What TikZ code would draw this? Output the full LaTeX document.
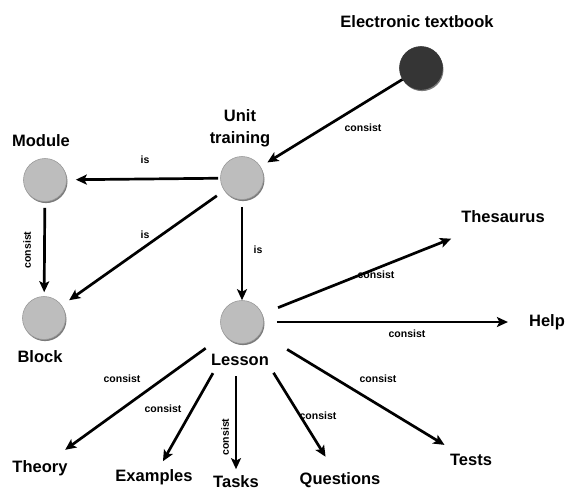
\documentclass[tikz,border=0pt]{standalone}
\usepackage{fontspec}
\setmainfont{Liberation Sans}
\usetikzlibrary{arrows.meta,shadows}
\definecolor{circfill}{HTML}{BDBDBD}
\definecolor{circrim}{HTML}{9A9A9A}
\definecolor{darkfill}{HTML}{353535}
\begin{document}
\begin{tikzpicture}[x=1pt,y=-1pt,
  circ/.style={circle, minimum size=43pt, inner sep=0pt, fill=circfill, draw=circrim, line width=0.6pt,
    drop shadow={shadow xshift=1pt, shadow yshift=-1.6pt, fill=gray!85!black, opacity=0.9}},
  lab/.style={font=\fontsize{16.5}{20}\selectfont\bfseries, inner sep=1pt, text height=11.8pt, text depth=3.5pt},
  elab/.style={font=\fontsize{10.5}{12}\selectfont\bfseries, inner sep=0pt},
  arr/.style={line width=2.7pt, -{Stealth[length=11pt,width=10pt,inset=2.5pt]}}]
\useasboundingbox (0,0) rectangle (569,491);
% circles
\node[circ] (unit) at (242,178) {};
\node[circ] (module) at (45,180) {};
\node[circ] (block) at (44,318) {};
\node[circ] (lesson) at (242,322) {};
\node[circ, fill=darkfill, draw=darkfill] (etb) at (421,68) {};
% labels
\node[lab] (etbL) at (417,23) {Electronic textbook};
\node[font=\fontsize{16.5}{22}\selectfont\bfseries, align=center, inner sep=1pt] (unitL) at (240,128) {Unit\\training};
\node[lab] (moduleL) at (41,142) {Module};
\node[lab] (blockL) at (40,358) {Block};
\node[lab] (lessonL) at (240,361) {Lesson};
\node[lab] (thes) at (503,218) {Thesaurus};
\node[lab] (help) at (547,322) {Help};
\node[lab] (theory) at (40,468) {Theory};
\node[lab] (examples) at (154,477) {Examples};
\node[lab] (tasks) at (236,483) {Tasks};
\node[lab] (questions) at (340,480) {Questions};
\node[lab] (tests) at (471,461) {Tests};
% connectors
\draw[arr, shorten >=8pt] (etb) -- (unit);
\draw[arr, shorten <=2pt, shorten >=9pt] (unit) -- (module);
\draw[arr, shorten <=9pt, shorten >=9pt] (unit) -- (block);
\draw[arr, line width=2pt, shorten <=7pt] (unit) -- (lesson);
\draw[arr, shorten <=6pt, shorten >=4pt] (module) -- (block);
\draw[arr, shorten <=17pt, shorten >=32pt] (lesson) -- (thes);
\draw[arr, shorten <=13pt, shorten >=20pt] (lesson) -- (help);
\draw[arr, shorten <=23pt, shorten >=16pt] (lesson) -- (theory);
\draw[arr, shorten <=37pt, shorten >=8pt] (lesson) -- (examples);
\draw[arr, line width=2.4pt, shorten <=54pt, shorten >=5pt] (tasks |- lesson) -- (tasks);
\draw[arr, shorten <=38pt, shorten >=17pt] (lesson) -- (questions);
\draw[arr, shorten <=31pt, shorten >=14pt] (lesson) -- (tests);
% connector labels
\node[elab] (e1) at (363,128) {consist};
\node[elab] (e2) at (145,160) {is};
\node[elab] (e3) at (145,235) {is};
\node[elab] (e4) at (258,250) {is};
\node[elab, rotate=90] (e5) at (27,250) {consist};
\node[elab] (e6) at (376,275) {consist};
\node[elab] (e7) at (407,334) {consist};
\node[elab] (e8) at (122,379) {consist};
\node[elab] (e9) at (163,409) {consist};
\node[elab, rotate=90] (e10) at (225,437) {consist};
\node[elab] (e11) at (318,416) {consist};
\node[elab] (e12) at (378,379) {consist};
\end{tikzpicture}
\end{document}
